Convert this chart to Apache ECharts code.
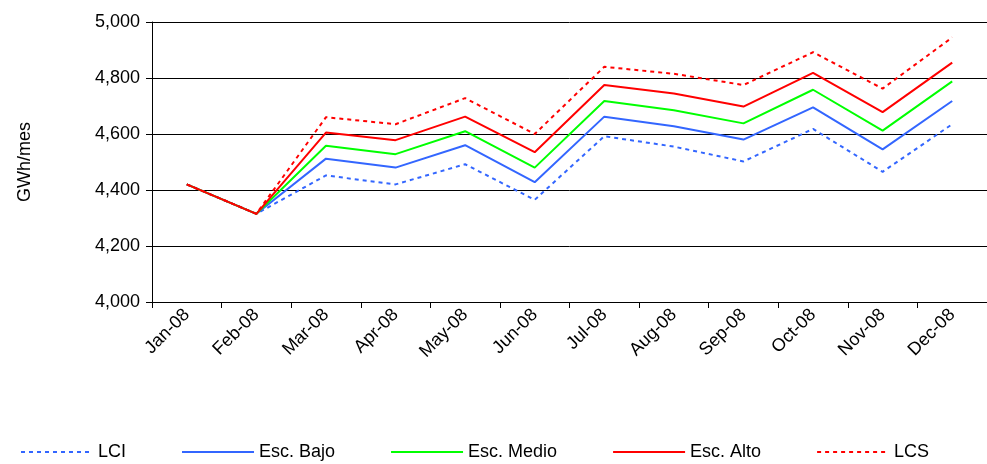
<!DOCTYPE html>
<html>
<head>
<meta charset="utf-8">
<script src="https://cdn.jsdelivr.net/npm/echarts@6/dist/echarts.min.js"></script>
<style>html,body{margin:0;padding:0;background:#fff}#c{width:987px;height:464px}</style>
</head>
<body>
<div id="c"></div>
<script>
var months = ['Jan-08','Feb-08','Mar-08','Apr-08','May-08','Jun-08','Jul-08','Aug-08','Sep-08','Oct-08','Nov-08','Dec-08'];
var lci   = [4420,4315,4452,4420,4492,4365,4592,4555,4502,4618,4465,4635];
var bajo  = [4420,4315,4512,4480,4560,4428,4662,4628,4580,4695,4545,4718];
var medio = [4420,4315,4558,4528,4610,4480,4718,4685,4638,4758,4612,4788];
var alto  = [4420,4315,4605,4578,4662,4535,4775,4745,4698,4818,4678,4855];
var lcs   = [4420,4315,4660,4635,4728,4600,4840,4815,4775,4892,4762,4945];

var chart = echarts.init(document.getElementById('c'));
function line(name, data, color, dashed) {
  return {
    name: name, type: 'line', data: data, symbol: 'none',
    lineStyle: { color: color, width: 2, type: dashed ? [4, 4] : 'solid' },
    itemStyle: { color: color }
  };
}
chart.setOption({
  animation: false,
  textStyle: { fontFamily: 'Liberation Sans, Arial, sans-serif' },
  grid: { left: 152, top: 22, right: -5, height: 280 },
  legend: {
    bottom: -2, left: 15, itemGap: 55, itemWidth: 72, itemHeight: 10,
    itemStyle: { opacity: 0 },
    textStyle: { fontSize: 18, color: '#000' },
    data: ['LCI','Esc. Bajo','Esc. Medio','Esc. Alto','LCS']
  },
  xAxis: {
    type: 'category', data: months, boundaryGap: true,
    axisLine: { lineStyle: { color: '#000' } },
    axisTick: { show: true, alignWithLabel: false, length: 6, lineStyle: { color: '#000' } },
    axisLabel: { rotate: 45, fontSize: 18, color: '#000', interval: 0, margin: 10 }
  },
  yAxis: {
    type: 'value', min: 4000, max: 5000, interval: 200,
    name: 'GWh/mes', nameLocation: 'middle', nameGap: 118, nameRotate: 90,
    nameTextStyle: { fontSize: 18, color: '#000' },
    axisLine: { show: true, lineStyle: { color: '#000' } },
    axisTick: { show: true, length: 6, lineStyle: { color: '#000' } },
    splitLine: { lineStyle: { color: '#000', width: 1 } },
    axisLabel: { fontSize: 18, color: '#000', margin: 12, formatter: function (v) { return v.toLocaleString('en-US'); } }
  },
  series: [
    line('LCI', lci, '#3366ff', true),
    line('Esc. Bajo', bajo, '#3366ff', false),
    line('Esc. Medio', medio, '#00ff00', false),
    line('Esc. Alto', alto, '#ff0000', false),
    line('LCS', lcs, '#ff0000', true)
  ]
});
</script>
</body>
</html>
